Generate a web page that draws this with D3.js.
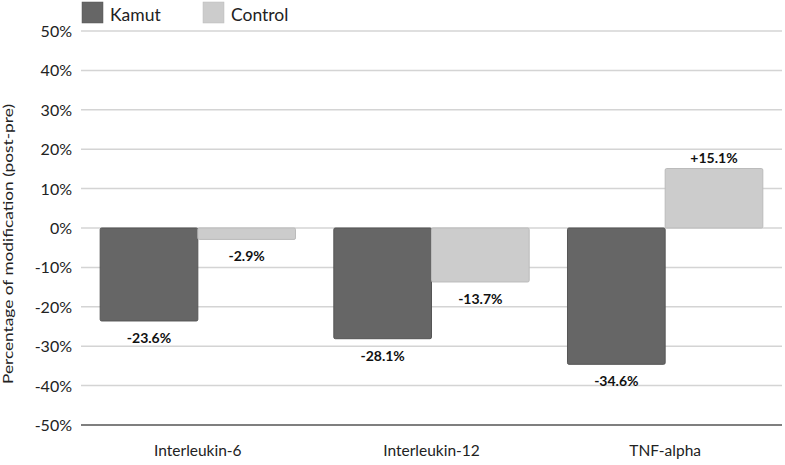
<!DOCTYPE html>
<html>
<head>
<meta charset="utf-8">
<script src="https://cdn.jsdelivr.net/npm/d3@7"></script>
<style>
  body { margin: 0; background: #fff; }
  svg { font-family: Lato, "Open Sans", sans-serif; }
</style>
</head>
<body>
<svg width="785" height="465"></svg>
<script>
const categories = ['Interleukin-6', 'Interleukin-12', 'TNF-alpha'];
const seriesNames = ['Kamut', 'Control'];
const kamut = [-23.6, -28.1, -34.6];
const control = [-2.9, -13.7, 15.1];
const yTicks = [-50, -40, -30, -20, -10, 0, 10, 20, 30, 40, 50];
const colors = { Kamut: '#666666', Control: '#cccccc' };

const svg = d3.select('svg');
const plotLeft = 81, plotRight = 782, plotTop = 31, plotBottom = 425;

const x = d3.scaleBand().domain(categories).range([plotLeft, plotRight])
  .paddingInner(0.164).paddingOuter(0.082);
const xs = d3.scaleBand().domain(seriesNames).range([0, x.bandwidth()]);
const y = d3.scaleLinear().domain([-50, 50]).range([plotBottom, plotTop]);

// grid
svg.append('g').selectAll('line')
  .data(yTicks)
  .enter().append('line')
    .attr('x1', plotLeft).attr('x2', plotRight)
    .attr('y1', d => y(d)).attr('y2', d => y(d))
    .attr('stroke', d => d == -50 ? '#555' : '#d4d4d4')
    .attr('stroke-width', 1.5);

// y tick labels
svg.append('g').selectAll('text')
  .data(yTicks)
  .enter().append('text')
    .attr('x', 72).attr('y', d => y(d) + 6)
    .attr('text-anchor', 'end')
    .attr('font-size', 16)
    .attr('fill', '#222')
    .text(d => d + '%');

// category labels
svg.append('g').selectAll('text')
  .data(categories)
  .enter().append('text')
    .attr('x', d => x(d) + x.bandwidth() / 2)
    .attr('y', 456)
    .attr('text-anchor', 'middle')
    .attr('font-size', 15.5)
    .attr('fill', '#222')
    .text(d => d);

// y title
svg.append('text')
  .attr('transform', 'translate(13,244) rotate(-90)')
  .attr('text-anchor', 'middle')
  .attr('font-size', 13)
  .attr('textLength', 280)
  .attr('lengthAdjust', 'spacingAndGlyphs')
  .attr('fill', '#222')
  .text('Percentage of modification (post-pre)');

const rows = [];
categories.forEach((c, i) => {
  rows.push({ cat: c, series: 'Kamut', value: kamut[i] });
  rows.push({ cat: c, series: 'Control', value: control[i] });
});

svg.append('g').selectAll('rect')
  .data(rows)
  .enter().append('rect')
    .attr('x', d => x(d.cat) + xs(d.series))
    .attr('width', xs.bandwidth())
    .attr('y', d => Math.min(y(d.value), y(0)))
    .attr('height', d => Math.abs(y(d.value) - y(0)))
    .attr('rx', 1.5)
    .attr('fill', d => colors[d.series])
    .attr('stroke', d => d.series == 'Kamut' ? '#555' : '#bbb')
    .attr('stroke-width', 1);

// value labels
svg.append('g').selectAll('text')
  .data(rows)
  .enter().append('text')
    .attr('x', d => x(d.cat) + xs(d.series) + xs.bandwidth() / 2)
    .attr('y', d => d.value < 0 ? y(d.value) + 22 : y(d.value) - 6)
    .attr('text-anchor', 'middle')
    .attr('font-size', 14)
    .attr('font-weight', 'bold')
    .attr('fill', '#111')
    .text(d => (d.value > 0 ? '+' : '') + d.value.toFixed(1) + '%');

// legend
const legend = svg.append('g').selectAll('g')
  .data(seriesNames)
  .enter().append('g')
    .attr('transform', (d, i) => 'translate(' + (82 + i * 121) + ',2)');
legend.append('rect')
  .attr('width', 21).attr('height', 21)
  .attr('fill', d => colors[d])
  .attr('stroke', d => d == 'Kamut' ? '#555' : '#bbb')
  .attr('stroke-width', 0.5);
legend.append('text')
  .attr('x', 28).attr('y', 19)
  .attr('font-size', 17.5)
  .attr('fill', '#222')
  .text(d => d);
</script>
</body>
</html>
